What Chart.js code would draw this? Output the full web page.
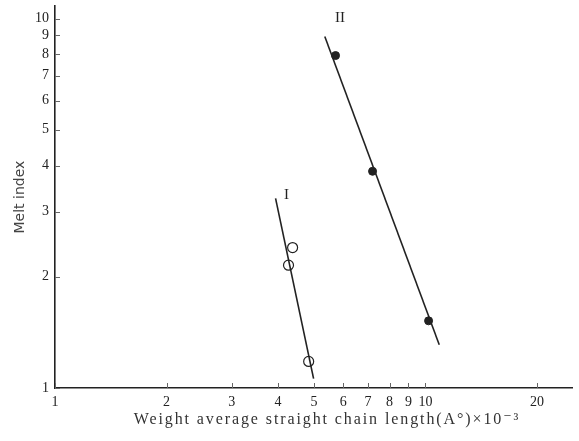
<!DOCTYPE html>
<html>
<head>
<meta charset="utf-8">
<script src="https://cdn.jsdelivr.net/npm/chart.js@4/dist/chart.umd.min.js"></script>
<style>
  html, body { margin: 0; padding: 0; background: #ffffff; }
  #wrap { width: 579px; height: 441px; position: relative; }
</style>
</head>
<body>
<div id="wrap"><canvas id="c" width="579" height="441"></canvas></div>
<script>
// Curve I: measured points (open circles)
const lengthI = [4.38, 4.27, 4.84];
const meltI = [2.40, 2.15, 1.18];
// Curve II: measured points (filled circles)
const lengthII = [5.72, 7.20, 10.2];
const meltII = [7.94, 3.86, 1.52];
// Straight lines drawn through each set
const fitLengthI = [3.94, 4.99];
const fitMeltI = [3.26, 1.06];
const fitLengthII = [5.35, 10.9];
const fitMeltII = [8.94, 1.31];
// Curve labels and where they sit
const curveNames = ['I', 'II'];
const curveNameLength = [4.22, 5.88];
const curveNameMelt = [3.32, 10.0];
// Tick values
const xTicks = [1, 2, 3, 4, 5, 6, 7, 8, 9, 10, 20];
const yTicks = [1, 2, 3, 4, 5, 6, 7, 8, 9, 10];
const xTitle = 'Weight average straight chain length(A°)×10⁻³';
const yTitle = 'Melt index';

const pts = (xs, ys) => xs.map((x, i) => ({ x: x, y: ys[i] }));
const ink = '#222222';
const serif = "'Liberation Serif', 'DejaVu Serif', serif";

// Short tick marks pointing into the plot, the I / II labels and the x title
const decorations = {
  id: 'decorations',
  afterDatasetsDraw(chart) {
    const ctx = chart.ctx;
    const xs = chart.scales.x, ys = chart.scales.y;
    ctx.save();
    ctx.strokeStyle = '#666666';
    ctx.lineWidth = 1;
    ctx.beginPath();
    xTicks.forEach(v => {
      const px = Math.round(xs.getPixelForValue(v)) + 0.5;
      ctx.moveTo(px, ys.bottom);
      ctx.lineTo(px, ys.bottom - 5);
    });
    yTicks.forEach(v => {
      const py = Math.round(ys.getPixelForValue(v)) + 0.5;
      ctx.moveTo(xs.left, py);
      ctx.lineTo(xs.left + 5, py);
    });
    ctx.stroke();
    ctx.fillStyle = ink;
    ctx.font = '15px ' + serif;
    ctx.textAlign = 'center';
    ctx.textBaseline = 'middle';
    curveNames.forEach((t, i) => {
      ctx.fillText(t, xs.getPixelForValue(curveNameLength[i]), ys.getPixelForValue(curveNameMelt[i]));
    });
    // x axis title, typeset with open letter spacing
    ctx.font = '16px ' + serif;
    ctx.letterSpacing = '1.9px';
    ctx.fillStyle = '#333333';
    ctx.fillText(xTitle, 327, 420);
    ctx.restore();
  }
};

new Chart(document.getElementById('c'), {
  type: 'scatter',
  data: {
    datasets: [
      { data: pts(fitLengthI, fitMeltI), showLine: true, borderColor: ink, borderWidth: 1.6, pointRadius: 0 },
      { data: pts(fitLengthII, fitMeltII), showLine: true, borderColor: ink, borderWidth: 1.6, pointRadius: 0 },
      { data: pts(lengthI, meltI), pointRadius: 5, pointBackgroundColor: '#ffffff', pointBorderColor: ink, pointBorderWidth: 1.2 },
      { data: pts(lengthII, meltII), pointRadius: 4, pointBackgroundColor: ink, pointBorderColor: ink, pointBorderWidth: 1 }
    ]
  },
  options: {
    responsive: false,
    animation: false,
    devicePixelRatio: 1,
    layout: { padding: { top: 6, right: 4, bottom: 0, left: 0 } },
    plugins: { legend: { display: false }, tooltip: { enabled: false } },
    scales: {
      x: {
        type: 'logarithmic',
        min: 1,
        max: 25,
        afterBuildTicks(scale) { scale.ticks = xTicks.map(v => ({ value: v })); },
        afterFit(scale) {
          scale.height = 53;
          scale.paddingLeft = 0; scale.paddingRight = 0;
        },
        grid: { display: true, drawOnChartArea: false, drawTicks: false },
        border: { display: true, color: ink, width: 1.6 },
        ticks: {
          color: ink,
          padding: 6,
          maxRotation: 0,
          autoSkip: false,
          font: { family: serif, size: 14 },
          callback: v => String(v)
        },
        title: { display: false }
      },
      y: {
        type: 'logarithmic',
        min: 1,
        max: 10.8,
        afterBuildTicks(scale) { scale.ticks = yTicks.map(v => ({ value: v })); },
        afterFit(scale) {
          scale.width = 55;
          scale.paddingTop = 0; scale.paddingBottom = 0;
        },
        grid: { display: true, drawOnChartArea: false, drawTicks: false },
        border: { display: true, color: ink, width: 1.6 },
        ticks: {
          color: ink,
          padding: 6,
          autoSkip: false,
          font: { family: serif, size: 14 },
          callback: v => String(v)
        },
        title: {
          display: true,
          text: yTitle,
          color: '#444444',
          font: { family: "'DejaVu Sans', sans-serif", size: 14 },
          padding: { top: 12, bottom: 0 }
        }
      }
    }
  },
  plugins: [decorations]
});
</script>
</body>
</html>
